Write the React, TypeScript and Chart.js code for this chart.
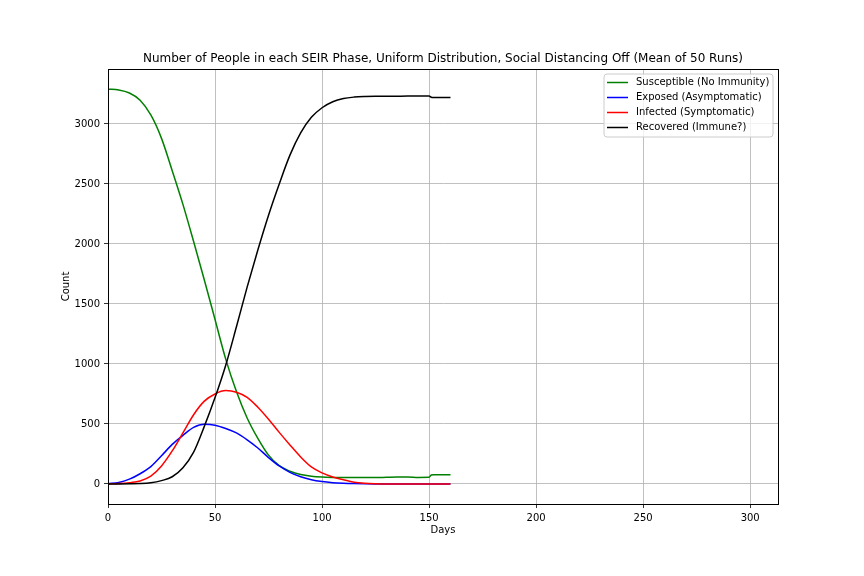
import React, { useEffect, useRef } from "react";
import { Chart, registerables } from "chart.js";

Chart.register(...registerables);

const days = [0, 5, 10, 15, 20, 25, 30, 35, 40, 45, 50, 55, 60, 65, 70, 75, 80, 85, 90, 95, 100, 105, 110, 115, 120, 125, 130, 135, 140, 145, 150, 151, 152, 155, 160];
const susceptible = [3290, 3283, 3258, 3198, 3075, 2880, 2610, 2330, 2020, 1700, 1370, 1040, 770, 550, 380, 240, 152, 106, 78, 64, 57, 54, 53, 53, 53, 53, 55, 57, 58, 54, 55, 74, 76, 76, 76];
const exposed = [3, 12, 40, 85, 145, 235, 330, 405, 472, 498, 490, 462, 425, 368, 300, 220, 150, 97, 60, 35, 20, 11, 6, 3, 1, 0, 0, 0, 0, 0, 0, 0, 0, 0, 0];
const infected = [0, 3, 10, 25, 65, 150, 275, 425, 577, 690, 750, 778, 765, 722, 640, 540, 430, 325, 225, 142, 92, 58, 35, 15, 6, 2, 0, 0, 0, 0, 0, 0, 0, 0, 0];
const recovered = [0, 0, 1, 3, 10, 28, 60, 135, 265, 480, 720, 990, 1310, 1640, 1950, 2240, 2500, 2740, 2925, 3055, 3135, 3185, 3212, 3224, 3229, 3231, 3230, 3231, 3232, 3234, 3233, 3222, 3220, 3220, 3220];

const seriesNames = ["Susceptible (No Immunity)", "Exposed (Asymptomatic)", "Infected (Symptomatic)", "Recovered (Immune?)"];
const seriesColors = ["#008000", "#0000ff", "#ff0000", "#000000"];
const yTicks = [0, 500, 1000, 1500, 2000, 2500, 3000];
const xTicks = [0, 50, 100, 150, 200, 250, 300];
const titleText = "Number of People in each SEIR Phase, Uniform Distribution, Social Distancing Off (Mean of 50 Runs)";

const FONT = "'DejaVu Sans', sans-serif";

export default function App() {
  const ref = useRef<HTMLCanvasElement>(null);
  useEffect(() => {
    document.body.style.margin = "0";
    const allSeries = [susceptible, exposed, infected, recovered];
    const decor = {
      id: "decor",
      afterDraw(chart: any) {
        const { ctx, chartArea } = chart;
        const { left, right, top, bottom } = chartArea;
        ctx.save();
        ctx.strokeStyle = "#000";
        ctx.lineWidth = 1;
        ctx.strokeRect(Math.round(left) + 0.5, Math.round(top) + 0.5, Math.round(right - left), Math.round(bottom - top));
        ctx.fillStyle = "#000";
        ctx.font = `12px ${FONT}`;
        ctx.textAlign = "center";
        ctx.textBaseline = "alphabetic";
        ctx.fillText(titleText, (left + right) / 2, top - 7);
        ctx.font = `10px ${FONT}`;
        ctx.textBaseline = "middle";
        ctx.fillText("Days", (left + right) / 2, 530);
        ctx.save();
        ctx.translate(66, (top + bottom) / 2);
        ctx.rotate(-Math.PI / 2);
        ctx.fillText("Count", 0, 0);
        ctx.restore();
        const bx = 604, by = 74, bw = 169, bh = 63, r = 3;
        ctx.beginPath();
        ctx.moveTo(bx + r, by);
        ctx.lineTo(bx + bw - r, by);
        ctx.quadraticCurveTo(bx + bw, by, bx + bw, by + r);
        ctx.lineTo(bx + bw, by + bh - r);
        ctx.quadraticCurveTo(bx + bw, by + bh, bx + bw - r, by + bh);
        ctx.lineTo(bx + r, by + bh);
        ctx.quadraticCurveTo(bx, by + bh, bx, by + bh - r);
        ctx.lineTo(bx, by + r);
        ctx.quadraticCurveTo(bx, by, bx + r, by);
        ctx.closePath();
        ctx.fillStyle = "rgba(255,255,255,0.8)";
        ctx.fill();
        ctx.strokeStyle = "#cccccc";
        ctx.stroke();
        ctx.textAlign = "left";
        seriesNames.forEach((name, i) => {
          const yy = 82.5 + i * 15;
          ctx.strokeStyle = seriesColors[i];
          ctx.lineWidth = 1.5;
          ctx.beginPath();
          ctx.moveTo(607, yy);
          ctx.lineTo(628, yy);
          ctx.stroke();
          ctx.fillStyle = "#000";
          ctx.fillText(name, 636, yy);
        });
        ctx.restore();
      },
    };
    const chart = new Chart(ref.current!, {
      type: "line",
      data: {
        datasets: allSeries.map((s, i) => ({
          label: seriesNames[i],
          data: days.map((d, j) => ({ x: d, y: s[j] })),
          borderColor: seriesColors[i],
          backgroundColor: seriesColors[i],
          borderWidth: 1.5,
          pointRadius: 0,
          cubicInterpolationMode: "monotone" as const,
          fill: false,
          order: 3 - i,
        })),
      },
      options: {
        responsive: false,
        animation: false,
        layout: { padding: { left: 0, top: 69, right: 86, bottom: 0 } },
        plugins: { legend: { display: false }, title: { display: false }, tooltip: { enabled: false } },
        scales: {
          x: {
            type: "linear",
            min: 0,
            max: 313,
            afterBuildTicks: (scale: any) => {
              scale.ticks = xTicks.map((v) => ({ value: v }));
            },
            afterFit: (scale: any) => {
              scale.height = 72;
            },
            grid: { color: "#b0b0b0", lineWidth: 0.8, tickColor: "#000", tickLength: 4 },
            border: { color: "#000", width: 1 },
            ticks: { color: "#000", font: { family: FONT, size: 10 }, padding: 4, maxRotation: 0, callback: (v: any) => String(v) },
          },
          y: {
            type: "linear",
            min: -167,
            max: 3458,
            afterBuildTicks: (scale: any) => {
              scale.ticks = yTicks.map((v) => ({ value: v }));
            },
            afterFit: (scale: any) => {
              scale.width = 108;
            },
            grid: { color: "#b0b0b0", lineWidth: 0.8, tickColor: "#000", tickLength: 4 },
            border: { color: "#000", width: 1 },
            ticks: { color: "#000", font: { family: FONT, size: 10 }, padding: 4, callback: (v: any) => String(v) },
          },
        },
      },
      plugins: [decor],
    });
    return () => chart.destroy();
  }, []);
  return <canvas ref={ref} width={864} height={576} style={{ display: "block" }} />;
}
